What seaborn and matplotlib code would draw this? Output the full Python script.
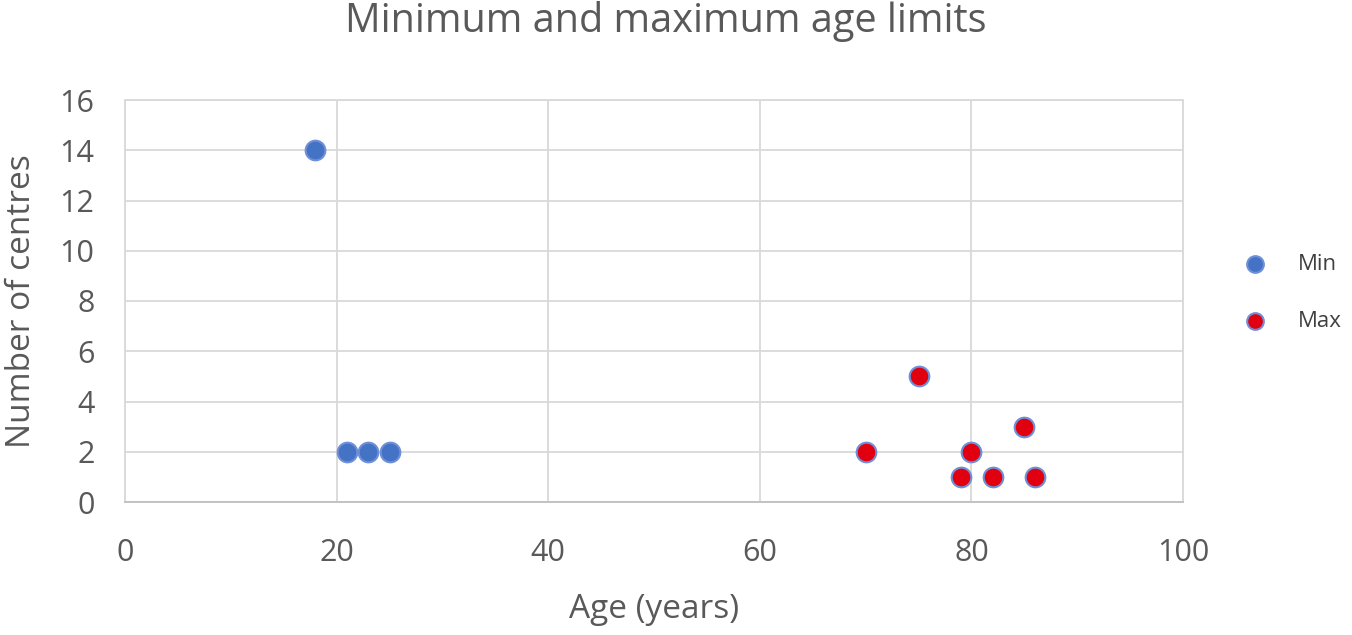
import matplotlib
matplotlib.use("Agg")
import matplotlib.pyplot as plt
import seaborn as sns
import pandas as pd

min_age = [18, 21, 23, 25]
min_count = [14, 2, 2, 2]
max_age = [70, 75, 79, 80, 82, 85, 86]
max_count = [2, 5, 1, 2, 1, 3, 1]
series_names = ["Min", "Max"]
x_ticks = [0, 20, 40, 60, 80, 100]
y_ticks = [0, 2, 4, 6, 8, 10, 12, 14, 16]

sns.set_theme(style="white")
plt.rcParams['font.family'] = ['Open Sans', 'DejaVu Sans']

df = pd.concat([
    pd.DataFrame({"age": min_age, "count": min_count, "series": series_names[0]}),
    pd.DataFrame({"age": max_age, "count": max_count, "series": series_names[1]}),
])

text_c = "#595959"
grid_c = "#D9D9D9"

fig = plt.figure(figsize=(13.52, 6.35), dpi=100)
ax = fig.add_axes([125/1352, 133/635, (1183-125)/1352, (502-100)/635])

for name, fc in zip(series_names, ["#4472C4", "#E0000F"]):
    sub = df[df["series"] == name]
    sns.scatterplot(data=sub, x="age", y="count", ax=ax, s=200,
                    color=fc, edgecolor="#6F8FD8", linewidth=1.5, zorder=3, label=name)

ax.set_xlim(0, 100)
ax.set_ylim(0, 16)
ax.set_xticks(x_ticks)
ax.set_yticks(y_ticks)
ax.grid(True, color=grid_c, linewidth=1.3)
ax.set_axisbelow(True)
for s in ["top", "right", "left"]:
    ax.spines[s].set_visible(True)
    ax.spines[s].set_color(grid_c)
    ax.spines[s].set_linewidth(1.3)
ax.spines["bottom"].set_color("#BFBFBF")
ax.spines["bottom"].set_linewidth(1.3)
ax.tick_params(axis="both", colors=text_c, labelsize=22, length=0)
ax.tick_params(axis="x", pad=26)
ax.tick_params(axis="y", pad=22)
ax.set_xlabel("Age (years)", fontsize=24, color=text_c)
ax.set_ylabel("Number of centres", fontsize=24, color=text_c)
ax.xaxis.set_label_coords(0.5, (502-609)/402)
ax.xaxis.label.set_va("center")
ax.yaxis.set_label_coords((22-125)/1058, 0.5)
ax.yaxis.label.set_va("center")
fig.text(666/1352, 1 - 22/635, "Minimum and maximum age limits", fontsize=28.5,
         color=text_c, ha="center", va="center")

leg = ax.legend(loc="center left", bbox_to_anchor=(0.0282, 0.52), frameon=False,
                fontsize=16, labelspacing=1.59, handlelength=2.0, handletextpad=0.94,
                markerscale=0.85, bbox_transform=ax.transAxes)
leg.set_bbox_to_anchor((1.0282, 0.52), transform=ax.transAxes)
for t in leg.get_texts():
    t.set_color("#404040")

fig.savefig("out.png", dpi=100)
